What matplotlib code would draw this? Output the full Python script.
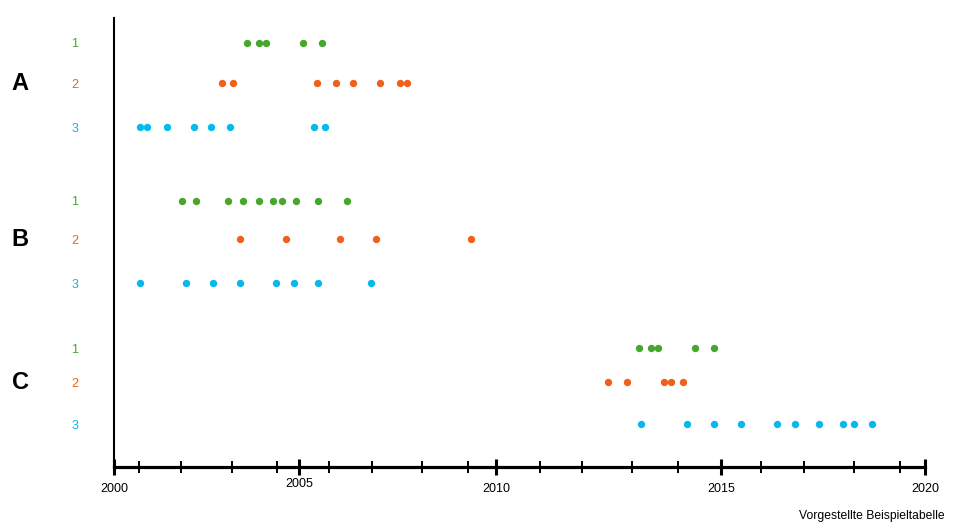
import numpy as np
import matplotlib
matplotlib.use("Agg")
import matplotlib.pyplot as plt
from matplotlib import transforms

plt.rcParams['font.family'] = ['Liberation Sans', 'DejaVu Sans']

# irregular timeline: years of the major ticks and where they sit (pixels from the left spine)
KNOT_YEARS = [2000, 2005, 2010, 2015, 2020]
KNOT_POS = [0.0, 184.7, 382.0, 607.0, 810.7]
MINOR_YEARS = [2000.66, 2001.81, 2003.18, 2004.41, 2005.76, 2006.86, 2008.12, 2009.28,
               2010.96, 2011.91, 2013.02, 2014.04, 2015.98, 2017.03, 2018.26, 2019.39]

groups = ['A', 'B', 'C']
subrows = ['1', '2', '3']

A1 = [2003.59, 2003.92, 2004.11, 2005.10, 2005.58]
A2 = [2002.92, 2003.21, 2005.46, 2005.94, 2006.37, 2007.05, 2007.56, 2007.74]
A3 = [2000.70, 2000.89, 2001.43, 2002.16, 2002.62, 2003.13, 2005.38, 2005.66]
B1 = [2001.83, 2002.21, 2003.08, 2003.48, 2003.92, 2004.30, 2004.54, 2004.92, 2005.48, 2006.22]
B2 = [2003.40, 2004.65, 2006.04, 2006.95, 2009.36]
B3 = [2000.70, 2001.94, 2002.67, 2003.40, 2004.38, 2004.86, 2005.48, 2006.83]
C1 = [2013.17, 2013.44, 2013.59, 2014.41, 2014.84]
C2 = [2012.48, 2012.91, 2013.73, 2013.89, 2014.15]
C3 = [2013.21, 2014.24, 2014.84, 2015.48, 2016.37, 2016.81, 2017.40, 2017.99, 2018.26, 2018.70]

series = {'A': [A1, A2, A3], 'B': [B1, B2, B3], 'C': [C1, C2, C3]}

colors = ['#45a82c', '#f0601c', '#05b9ec']
# vertical position of each row (pixels from top of figure)
row_y = {'A': [42.7, 83.3, 127.3], 'B': [200.7, 239.3, 283.3], 'C': [348.3, 382.3, 424.3]}

W, H = 971, 528
fig = plt.figure(figsize=(W / 100, H / 100), dpi=100)
left, right, top, bottom = 114.3, 925.0, 18.0, 466.7
ax = fig.add_axes([left / W, (H - bottom) / H, (right - left) / W, (bottom - top) / H])

fwd = lambda x: np.interp(x, KNOT_YEARS, KNOT_POS)
inv = lambda p: np.interp(p, KNOT_POS, KNOT_YEARS)
ax.set_xscale('function', functions=(fwd, inv))
ax.set_xlim(2000, 2020)
ax.set_ylim(bottom, top)

for g in groups:
    for i, vals in enumerate(series[g]):
        ax.plot(vals, [row_y[g][i]] * len(vals), 'o', color=colors[i], ms=5.3, mew=0)

ax.set_xticks(KNOT_YEARS)
ax.set_xticklabels([str(y) for y in KNOT_YEARS], fontsize=9)
ax.set_xticks(MINOR_YEARS, minor=True)
ax.tick_params(axis='x', which='major', direction='inout', length=11, width=2.2, pad=6)
ax.tick_params(axis='x', which='minor', direction='inout', length=8.5, width=1.4)

# 2005 label sits a little higher
lab = ax.xaxis.get_major_ticks()[1].label1
lab.set_transform(lab.get_transform() + transforms.ScaledTranslation(0, 5 / 100, fig.dpi_scale_trans))

yt, yl, yc = [], [], []
for g in groups:
    for i, s in enumerate(subrows):
        yt.append(row_y[g][i]); yl.append(s); yc.append(colors[i])
ax.set_yticks(yt)
ax.set_yticklabels(yl, fontsize=9)
for t, c in zip(ax.get_yticklabels(), yc):
    t.set_color(c)
ax.tick_params(axis='y', length=0, pad=26)

ax.spines['top'].set_visible(False)
ax.spines['right'].set_visible(False)
ax.spines['left'].set_linewidth(1.5)
ax.spines['bottom'].set_linewidth(2.3)

tr = transforms.blended_transform_factory(fig.transFigure, ax.transData)
for g in groups:
    ax.text(20 / W, row_y[g][1], g, transform=tr, fontsize=17, fontweight='bold',
            ha='center', va='center')

fig.text(945 / W, 1 - 516 / H, 'Vorgestellte Beispieltabelle', fontsize=8.7, ha='right', va='center')

fig.savefig('out.png', dpi=100)
